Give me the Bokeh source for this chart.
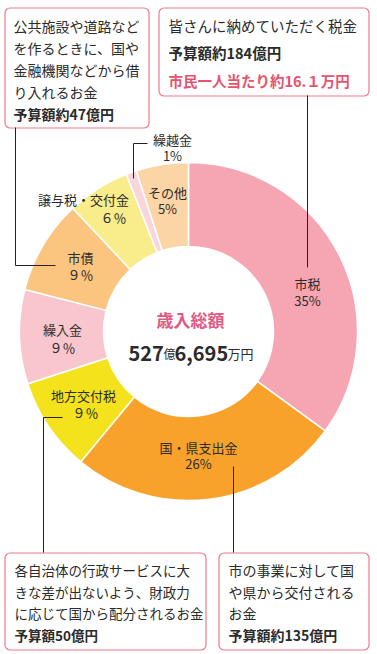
import math
from bokeh.plotting import figure
from bokeh.models import Range1d, BoxAnnotation, ColumnDataSource
from bokeh.core.properties import value
from bokeh.embed import file_html
from bokeh.resources import INLINE

# ---- data ----
categories = ["市税", "国・県支出金", "地方交付税", "繰入金", "市債", "譲与税・交付金", "繰越金", "その他"]
shares = [35, 26, 9, 9, 9, 6, 1, 5]
pct_labels = ["35%", "26%", "９％", "９％", "９％", "６％", "1%", "5%"]
colors = ["#F6A6B2", "#F8A22C", "#F4E31C", "#F9C6CD", "#FBC47F", "#F8EC8B", "#FAD6DC", "#FCD5A6"]

total_title = "歳入総額"
total_parts = ["527", "億", "6,695", "万円"]

note_tl = ["公共施設や道路など", "を作るときに、国や", "金融機関などから借", "り入れるお金"]
note_tl_bold = "予算額約47億円"
note_tr = "皆さんに納めていただく税金"
note_tr_bold = "予算額約184億円"
note_tr_pink = "市民一人当たり約16.１万円"
note_bl = ["各自治体の行政サービスに大", "きな差が出ないよう、財政力", "に応じて国から配分されるお金"]
note_bl_bold = "予算額50億円"
note_br = ["市の事業に対して国", "や県から交付される", "お金"]
note_br_bold = "予算額約135億円"

# ---- layout helpers ----
W, H = 377, 654
def Y(py):
    return H - py

FONT = value("Noto Sans CJK JP")
DARK = "#2b2b2b"
PINK_LINE = "#EE7A8E"

p = figure(width=W, height=H, x_range=Range1d(0, W), y_range=Range1d(0, H),
           output_backend="svg", toolbar_location=None,
           x_axis_location=None, y_axis_location=None,
           min_border=0, outline_line_color=None)
p.xgrid.visible = False
p.ygrid.visible = False
p.background_fill_color = "white"

# ---- note boxes (drawn beneath glyphs) ----
boxes = [(4.5, 148.5, 7.5, 127.5), (158.5, 368.5, 7.5, 95.5), (4.5, 205.5, 552.5, 649.5), (218.5, 368.5, 552.5, 649.5)]
for l, r, t, b in boxes:
    p.add_layout(BoxAnnotation(left=l, right=r, top=Y(t), bottom=Y(b), level="underlay",
                               fill_color="white", fill_alpha=1.0,
                               line_color=PINK_LINE, line_alpha=1.0, line_width=1.2,
                               border_radius=5))

# ---- donut ----
cx, cy = 188, Y(331)
total = sum(shares)
starts, ends = [], []
cum = 0
for s in shares:
    a0 = math.pi / 2 - 2 * math.pi * cum / total
    a1 = math.pi / 2 - 2 * math.pi * (cum + s) / total
    starts.append(a1)
    ends.append(a0)
    cum += s
src = ColumnDataSource(dict(x=[cx] * len(shares), y=[cy] * len(shares),
                            start=starts, end=ends, color=colors))
p.annular_wedge(x="x", y="y", inner_radius=85, outer_radius=169,
                inner_radius_units="screen", outer_radius_units="screen",
                start_angle="start", end_angle="end", direction="anticlock",
                fill_color="color", line_color="white", line_width=1.5, source=src)

# ---- slice labels ----
name_pos = [(307, 283), (198, 447), (83, 395), (62, 329), (80, 257), (83, 199), (172, 139), (167, 192)]
pct_pos = [(307, 300), (198, 463), (85, 412), (62, 347), (80, 274), (113, 217), (172, 155), (167, 208)]
p.text(x=[q[0] for q in name_pos], y=[Y(q[1]) for q in name_pos], text=categories,
       text_font=FONT, text_font_size="13px", text_color=DARK,
       text_align="center", text_baseline="middle")
p.text(x=[q[0] for q in pct_pos], y=[Y(q[1]) for q in pct_pos], text=pct_labels,
       text_font=FONT, text_font_size="13px", text_color=DARK,
       text_align="center", text_baseline="middle")

# ---- center ----
p.text(x=[190], y=[Y(319)], text=[total_title], text_font=FONT, text_font_size="17px",
       text_font_style="bold", text_color="#E05A84", text_align="center", text_baseline="middle")
part_x = [128, 163, 174, 227]
part_size = ["20px", "12px", "20px", "13px"]
part_style = ["bold", "normal", "bold", "normal"]
for t, xx, fs, st in zip(total_parts, part_x, part_size, part_style):
    p.text(x=[xx], y=[Y(353)], text=[t], text_font=FONT, text_font_size=fs,
           text_font_style=st, text_color=DARK, text_align="left", text_baseline="alphabetic")

# ---- leader lines ----
leaders = [
    [(15, 127), (15, 265), (55, 265)],
    [(307, 95), (307, 267)],
    [(147, 143), (133, 143), (133, 178)],
    [(62, 417), (43, 417), (43, 552)],
    [(233, 466), (233, 552)],
]
p.multi_line(xs=[[q[0] for q in l] for l in leaders], ys=[[Y(q[1]) for q in l] for l in leaders],
             line_color="#222222", line_width=1)

def lines(x, ys, texts, color=DARK, style="normal", size="14px"):
    p.text(x=[x] * len(texts), y=[Y(v) for v in ys], text=texts, text_font=FONT,
           text_font_size=size, text_font_style=style, text_color=color,
           text_align="left", text_baseline="middle")

lines(13, [25, 47, 69, 91], note_tl)
lines(13, [113], [note_tl_bold], style="bold")
lines(168, [25], [note_tr], size="14.5px")
lines(168, [52], [note_tr_bold], style="bold", size="14.5px")
lines(168, [80], [note_tr_pink], color="#E5546E", style="bold", size="14.5px")
lines(14, [569, 591, 612], note_bl, size="13.5px")
lines(14, [634], [note_bl_bold], style="bold", size="13.5px")
lines(228, [569, 591, 612], note_br)
lines(228, [634], [note_br_bold], style="bold")

open("out.html", "w").write(file_html(p, INLINE))
